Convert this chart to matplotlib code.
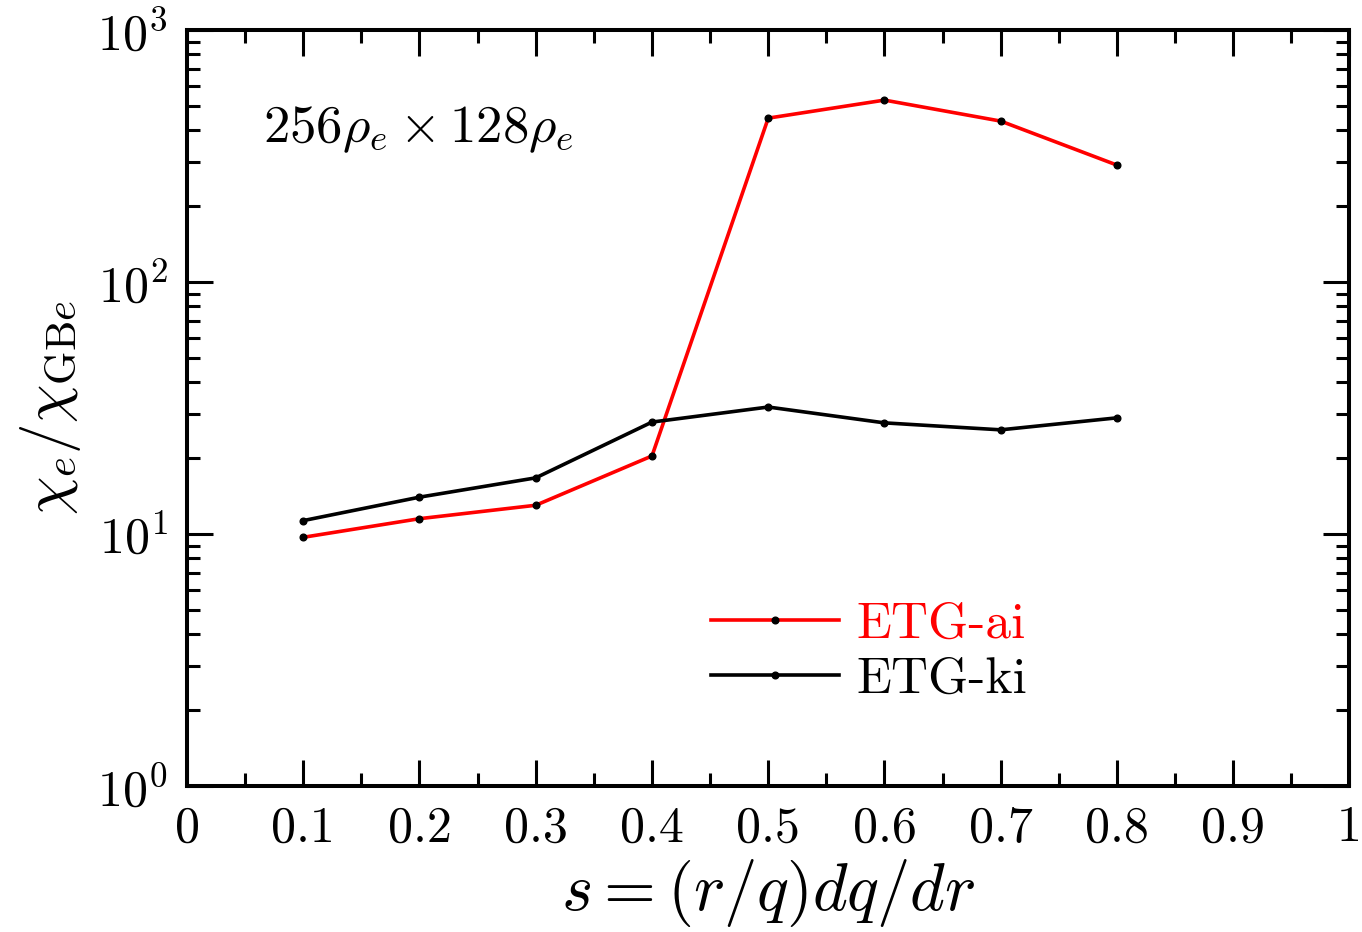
import matplotlib
matplotlib.use('Agg')
import matplotlib.pyplot as plt
from matplotlib.ticker import LogLocator, FixedLocator, MultipleLocator, NullFormatter

plt.rcParams['font.family'] = 'serif'
plt.rcParams['font.serif'] = ['cmr10']
plt.rcParams['mathtext.fontset'] = 'cm'
plt.rcParams['axes.formatter.use_mathtext'] = True

# data
shear = [0.1, 0.2, 0.3, 0.4, 0.5, 0.6, 0.7, 0.8]
chi_ai = [9.7, 11.5, 13.0, 20.4, 447, 527, 435, 291]
chi_ki = [11.3, 14.0, 16.7, 27.8, 31.9, 27.6, 25.9, 28.9]
xticks = [0, 0.1, 0.2, 0.3, 0.4, 0.5, 0.6, 0.7, 0.8, 0.9, 1]
xticklabels = ['0', '0.1', '0.2', '0.3', '0.4', '0.5', '0.6', '0.7', '0.8', '0.9', '1']

fig = plt.figure(figsize=(13.62, 9.32), dpi=100)
ax = fig.add_axes([0.1373, 0.1567, 0.8535, 0.8111])

ax.plot(shear, chi_ai, '-o', color='red', lw=2.6, ms=4.8, mfc='black', mec='black', label='ETG-ai')
ax.plot(shear, chi_ki, '-o', color='black', lw=2.6, ms=4.8, mfc='black', mec='black', label='ETG-ki')

ax.set_yscale('log')
ax.set_xlim(0, 1)
ax.set_ylim(1, 1000)

ax.xaxis.set_major_locator(FixedLocator(xticks))
ax.set_xticklabels(xticklabels)
ax.xaxis.set_minor_locator(MultipleLocator(0.05))
ax.yaxis.set_major_locator(LogLocator(base=10, numticks=10))
ax.yaxis.set_minor_locator(LogLocator(base=10, subs=range(2, 10), numticks=20))
ax.yaxis.set_minor_formatter(NullFormatter())

for s in ax.spines.values():
    s.set_linewidth(2.9)
ax.tick_params(which='both', direction='in', top=True, right=True, width=2.2, labelsize=36, pad=14)
ax.tick_params(which='major', length=19)
ax.tick_params(which='minor', length=9.5)

ax.set_xlabel(r'$s = (r/q)dq/dr$', fontsize=48, labelpad=4)
ax.set_ylabel(r'$\chi_e/\chi_{\mathrm{GB}e}$', fontsize=44, labelpad=10)

ax.text(0.065, 0.868, r'$256\rho_e \times 128\rho_e$', transform=ax.transAxes, fontsize=38, va='center', ha='left')

leg = ax.legend(loc='lower left', bbox_to_anchor=(0.433, 0.083), fontsize=37, frameon=False,
                handlelength=2.5, handletextpad=0.33, labelspacing=0.17, borderaxespad=0,
                labelcolor='linecolor')

fig.savefig('out.png', dpi=100)
